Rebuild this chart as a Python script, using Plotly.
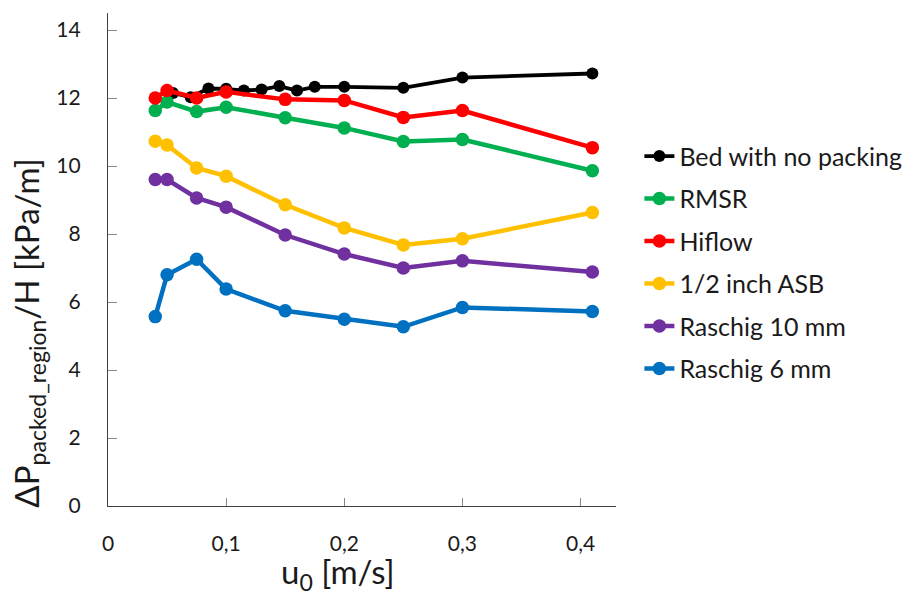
import plotly.graph_objects as go

# ---- data ----
x_std = [0.04, 0.05, 0.075, 0.1, 0.15, 0.2, 0.25, 0.3, 0.41]
x_bed = [0.055, 0.07, 0.085, 0.1, 0.115, 0.13, 0.145, 0.16, 0.175, 0.2, 0.25, 0.3, 0.41]

bed = [12.15, 12.02, 12.28, 12.27, 12.22, 12.25, 12.35, 12.22, 12.33, 12.33, 12.30, 12.60, 12.72]
rmsr = [11.63, 11.88, 11.60, 11.73, 11.42, 11.12, 10.72, 10.78, 9.86]
hiflow = [12.00, 12.22, 12.00, 12.18, 11.96, 11.93, 11.43, 11.63, 10.54]
asb = [10.73, 10.62, 9.94, 9.70, 8.86, 8.18, 7.68, 7.86, 8.63]
raschig10 = [9.60, 9.60, 9.06, 8.79, 7.97, 7.41, 7.00, 7.21, 6.88]
raschig6 = [5.57, 6.80, 7.26, 6.38, 5.74, 5.49, 5.27, 5.84, 5.72]

series = [
    ("Bed with no packing", x_bed, bed, "#000000"),
    ("RMSR", x_std, rmsr, "#00B050"),
    ("Hiflow", x_std, hiflow, "#FF0000"),
    ("1/2 inch ASB", x_std, asb, "#FFC000"),
    ("Raschig 10 mm", x_std, raschig10, "#7030A0"),
    ("Raschig 6 mm", x_std, raschig6, "#0070C0"),
]

FONT = "Lato"
TXT = "#1a1a1a"

fig = go.Figure()
for i, (name, xs, ys, col) in enumerate(series):
    lw = 3.8 if i == 0 else 4.5
    ms = 12 if i == 0 else 13.5
    fig.add_trace(go.Scatter(
        x=xs, y=ys, name=name, mode="lines+markers",
        line=dict(color=col, width=lw),
        marker=dict(color=col, size=ms, symbol="circle"),
        legendgroup=f"g{i}",
    ))

fig.update_layout(
    width=918, height=593,
    margin=dict(l=108, r=301, t=13, b=87),
    paper_bgcolor="white", plot_bgcolor="white",
    separators=", ",
    font=dict(family=FONT, size=20, color=TXT),
    showlegend=True,
    legend=dict(
        x=1.044, y=0.756, xanchor="left", yanchor="top",
        font=dict(family=FONT, size=25, color=TXT),
        tracegroupgap=7, itemwidth=30,
        bgcolor="rgba(0,0,0,0)",
    ),
    xaxis=dict(
        range=[0, 0.43], dtick=0.1, tick0=0,
        showgrid=False, zeroline=False,
        showline=True, linecolor="#404040", linewidth=1.3,
        ticks="inside", ticklen=8, tickcolor="#888888", tickwidth=1.3,
        tickfont=dict(family=FONT, size=21, color=TXT),
        ticklabelstandoff=19,
    ),
    yaxis=dict(
        range=[0, 14.5], dtick=2, tick0=0,
        showgrid=False, zeroline=False,
        showline=True, linecolor="#404040", linewidth=1.3,
        ticks="inside", ticklen=9, tickcolor="#888888", tickwidth=1.3,
        tickfont=dict(family=FONT, size=21, color=TXT),
        ticklabelstandoff=22,
    ),
    annotations=[
        dict(text="ΔP<sub>packed_region</sub>/H [kPa/m]", xref="paper", yref="paper",
             x=-0.157, y=0.35, xanchor="center", yanchor="middle", textangle=-90,
             showarrow=False, font=dict(family=FONT, size=33, color=TXT)),
        dict(text="u<sub>0</sub> [m/s]", xref="paper", yref="paper",
             x=0.452, y=-0.137, xanchor="center", yanchor="middle",
             showarrow=False, font=dict(family=FONT, size=33, color=TXT)),
    ],
)

fig.write_html("out.html")
